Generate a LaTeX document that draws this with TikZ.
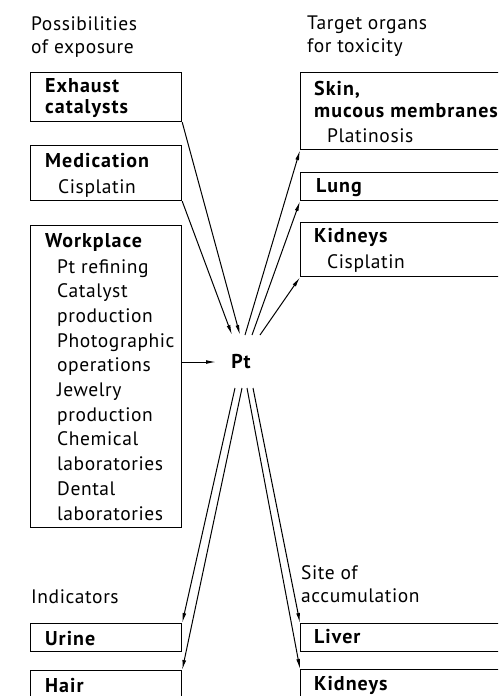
\documentclass[tikz,border=0pt]{standalone}
\usepackage{fontspec}
\setmainfont{PT Sans}
\newfontfamily\regf{PT Sans}[LetterSpace=3]
\newfontfamily\boldf{PT Sans}[LetterSpace=5]
\usetikzlibrary{arrows.meta}
\begin{document}
\begin{tikzpicture}[x=1pt,y=-1pt,
  box/.style={draw, line width=1.2pt, inner sep=0pt, anchor=north west},
  lbl/.style={anchor=base west, inner sep=0pt, font=\regf\fontsize{19.5}{21}\selectfont},
  ttl/.style={anchor=base west, inner sep=0pt, font=\boldf\bfseries\fontsize{20}{22}\selectfont},
  arr/.style={line width=1pt, -{Latex[length=10pt,width=3.8pt]}},
  ln/.style={line width=1pt}]
\useasboundingbox (0,0) rectangle (498,696);
\clip (0,0) rectangle (498,696);
% headers
\node[lbl] (h1) at (31,30) {Possibilities};
\node[lbl] (h2) at (31,53) {of exposure};
\node[lbl] (h3) at (307,29) {Target organs};
\node[lbl] (h4) at (307,52) {for toxicity};
\node[lbl] (h5) at (31,603) {Indicators};
\node[lbl] (h6) at (301,579) {Site of};
\node[lbl] (h7) at (301,602) {accumulation};
% left boxes
\node[box, minimum width=151pt, minimum height=49pt] (exh) at (30,72) {};
\node[ttl] (exh1) at (45,92) {Exhaust};
\node[ttl] (exh2) at (45,113) {catalysts};
\node[box, minimum width=151pt, minimum height=55pt] (med) at (30,145) {};
\node[ttl] (med1) at (45,167) {Medication};
\node[lbl] (med2) at (58,193) {Cisplatin};
\node[box, minimum width=151pt, minimum height=302pt] (wp) at (30,225) {};
\node[ttl] (wp0) at (45,247) {Workplace};
\foreach \t [count=\i from 0] in {Pt refining,Catalyst,production,Photographic,operations,Jewelry,production,Chemical,laboratories,Dental,laboratories}
  \node[lbl] (wp\i x) at (57,273+24.7*\i) {\t};
\node[box, minimum width=151pt, minimum height=28pt] (uri) at (30,623) {};
\node[ttl] (uri1) at (45,645) {Urine};
\node[box, minimum width=151pt, minimum height=60pt] (hair) at (30,670) {};
\node[ttl] (hair1) at (45,692) {Hair};
% right boxes
\node[box, minimum width=220pt, minimum height=77pt] (skin) at (300,72) {};
\node[ttl] (skin1) at (314,95) {Skin,};
\node[ttl] (skin2) at (314,117) {mucous membranes};
\node[lbl] (skin3) at (327,142) {Platinosis};
\node[box, minimum width=220pt, minimum height=28pt] (lung) at (300,172) {};
\node[ttl] (lung1) at (316,192) {Lung};
\node[box, minimum width=220pt, minimum height=54pt] (kid) at (300,222) {};
\node[ttl] (kid1) at (314,242) {Kidneys};
\node[lbl] (kid2) at (327,268) {Cisplatin};
\node[box, minimum width=220pt, minimum height=28pt] (liv) at (300,623) {};
\node[ttl] (liv1) at (314,643) {Liver};
\node[box, minimum width=220pt, minimum height=60pt] (kid3) at (300,669) {};
\node[ttl] (kid4) at (314,690) {Kidneys};
% Pt
\node[ttl, anchor=base] (pt) at (241,368) {Pt};
\coordinate (i1) at (240,335);
\coordinate (i2) at (232,335);
\coordinate (i3) at (216,362);
\coordinate (o1) at (245,335);
\coordinate (o2) at (252,335);
\coordinate (o3) at (260,335);
\coordinate (d1) at (235,388);
\coordinate (d2) at (242,388);
\coordinate (d3) at (247,388);
\coordinate (d4) at (253,388);
% connectors
\draw[arr] (exh.south east) -- (i1);
\draw[arr] (med.south east) -- (i2);
\draw[arr] (wp.east |- i3) -- (i3);
\draw[arr] (o1) -- (skin.south west);
\draw[arr] (o2) -- (lung.south west);
\draw[arr] (o3) -- (kid.south west);
\draw[arr] (d1) -- (uri.north east);
\draw[arr] (d2) -- (hair.north east);
\draw[arr] (d3) -- (kid3.north west);
\draw[arr] (d4) -- (liv.north west);
\end{tikzpicture}
\end{document}
